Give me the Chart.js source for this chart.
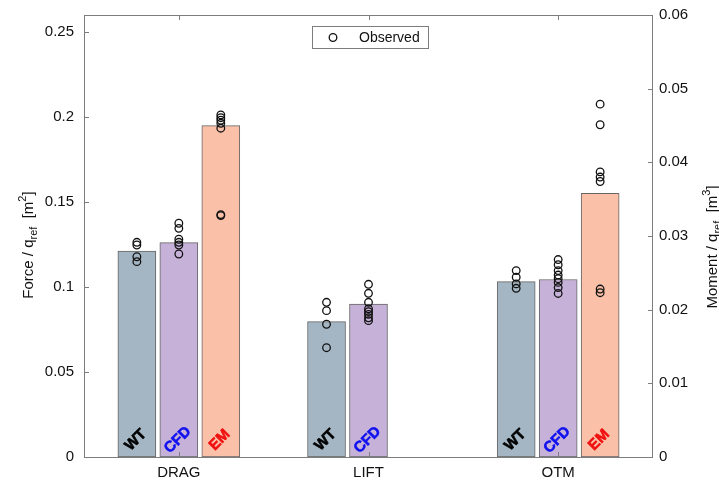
<!DOCTYPE html>
<html>
<head>
<meta charset="utf-8">
<script src="https://cdn.jsdelivr.net/npm/chart.js@4"></script>
<style>
  html, body { margin: 0; padding: 0; background: #fff; }
  canvas { display: block; }
</style>
</head>
<body>
<canvas id="chart" width="719" height="482"></canvas>
<script>
const categories = ['DRAG', 'LIFT', 'OTM'];
const methods = ['WT', 'CFD', 'EM'];

// bar heights: DRAG and LIFT on the force axis, OTM on the moment axis
const forceWT = [0.1212, 0.0796, null];
const forceCFD = [0.1261, 0.0900, null];
const forceEM = [0.1949, null, null];
const momentWT = [null, null, 0.0238];
const momentCFD = [null, null, 0.0241];
const momentEM = [null, null, 0.0358];

// observed runs
const obsDragWT = [0.1263, 0.1247, 0.1178, 0.1149];
const obsDragCFD = [0.1375, 0.1345, 0.1281, 0.1263, 0.1247, 0.1194];
const obsDragEM = [0.2012, 0.1996, 0.1981, 0.1963, 0.1934, 0.1426, 0.1420];
const obsLiftWT = [0.0910, 0.0861, 0.0781, 0.0643];
const obsLiftCFD = [0.1016, 0.0963, 0.0910, 0.0871, 0.0855, 0.0839, 0.0819, 0.0802];
const obsOtmWT = [0.0253, 0.0244, 0.0235, 0.0229];
const obsOtmCFD = [0.0268, 0.0261, 0.0253, 0.0247, 0.0242, 0.0237, 0.0230, 0.0222];
const obsOtmEM = [0.0479, 0.0451, 0.0387, 0.0380, 0.0374, 0.0228, 0.0223];

const forceTicks = [0, 0.05, 0.1, 0.15, 0.2, 0.25];
const momentTicks = [0, 0.01, 0.02, 0.03, 0.04, 0.05, 0.06];

const FONT = '"Liberation Sans", Arial, Helvetica, sans-serif';
const frameColor = '#7d7d7d';
const fills = ['rgb(164,182,195)', 'rgb(198,177,216)', 'rgb(251,192,168)'];
const labelColors = ['#000000', '#1010f0', '#f01010'];
const slotWidth = 0.2213;   // one method slot, in category units

// [category index, method slot, axis, values]
const observed = [
  [0, 0, 'y', obsDragWT], [0, 1, 'y', obsDragCFD], [0, 2, 'y', obsDragEM],
  [1, 0, 'y', obsLiftWT], [1, 1, 'y', obsLiftCFD],
  [2, 0, 'y2', obsOtmWT], [2, 1, 'y2', obsOtmCFD], [2, 2, 'y2', obsOtmEM]
];

function barSet(values, m, axis) {
  let off = (m - 1) * slotWidth;
  return {
    type: 'bar', xAxisID: 'xo', yAxisID: axis, grouped: false,
    data: values.map((v, i) => ({x: i + off, y: v})).filter(p => p.y != null),
    backgroundColor: fills[m], borderColor: '#666666', borderWidth: 1,
    borderSkipped: false, barThickness: 38, order: 2, method: m
  };
}

let datasets = [
  barSet(forceWT, 0, 'y'), barSet(forceCFD, 1, 'y'), barSet(forceEM, 2, 'y'),
  barSet(momentWT, 0, 'y2'), barSet(momentCFD, 1, 'y2'), barSet(momentEM, 2, 'y2')
];
observed.forEach(o => {
  let off = (o[1] - 1) * slotWidth;
  datasets.push({
    type: 'line', label: 'Observed', showLine: false, xAxisID: 'xo', yAxisID: o[2],
    data: o[3].map(v => ({x: o[0] + off, y: v})),
    pointRadius: 3.8, pointBorderWidth: 1.3, pointBorderColor: '#111',
    pointBackgroundColor: 'rgba(0,0,0,0)', order: 0, clip: false
  });
});

// axes box with inward ticks, like the original figure
const framePlugin = {
  id: 'frame',
  afterDatasetsDraw(chart) {
    const {ctx, chartArea: a, scales} = chart;
    ctx.save();
    ctx.strokeStyle = frameColor;
    ctx.lineWidth = 1;
    ctx.strokeRect(a.left + 0.5, a.top + 0.5, a.right - a.left - 1, a.bottom - a.top);
    ctx.beginPath();
    forceTicks.forEach(v => {
      let y = Math.round(scales.y.getPixelForValue(v)) + 0.5;
      ctx.moveTo(a.left, y); ctx.lineTo(a.left + 5, y);
    });
    momentTicks.forEach(v => {
      let y = Math.round(scales.y2.getPixelForValue(v)) + 0.5;
      ctx.moveTo(a.right, y); ctx.lineTo(a.right - 5, y);
    });
    categories.forEach((c, i) => {
      let x = Math.round(scales.x.getPixelForValue(i)) + 0.5;
      ctx.moveTo(x, a.top); ctx.lineTo(x, a.top + 5);
      ctx.moveTo(x, a.bottom); ctx.lineTo(x, a.bottom - 5);
    });
    ctx.stroke();
    ctx.restore();
  }
};

// WT / CFD / EM written across the foot of each bar
const barLabelPlugin = {
  id: 'barLabels',
  afterDatasetsDraw(chart) {
    const {ctx, chartArea: a} = chart;
    ctx.save();
    ctx.font = 'bold 15px ' + FONT;
    ctx.textAlign = 'center';
    ctx.textBaseline = 'middle';
    chart.data.datasets.forEach((ds, di) => {
      if (ds.type !== 'bar') return;
      chart.getDatasetMeta(di).data.forEach(el => {
        ctx.save();
        ctx.translate(el.x - 1, a.bottom - 17);
        ctx.rotate(-Math.PI / 4);
        ctx.fillStyle = labelColors[ds.method];
        ctx.strokeStyle = labelColors[ds.method];
        ctx.lineWidth = 0.6;
        ctx.fillText(methods[ds.method], 0, 0);
        ctx.strokeText(methods[ds.method], 0, 0);
        ctx.restore();
      });
    });
    ctx.restore();
  }
};

// axis titles with sub/superscripts, legend box inside the plot
function drawTitle(ctx, parts, cx, cy) {
  ctx.save();
  ctx.translate(cx, cy);
  ctx.rotate(-Math.PI / 2);
  ctx.textBaseline = 'alphabetic';
  ctx.textAlign = 'left';
  let total = 0;
  parts.forEach(p => { ctx.font = p[1] + 'px ' + FONT; total += ctx.measureText(p[0]).width; });
  let x = -total / 2;
  parts.forEach(p => {
    ctx.font = p[1] + 'px ' + FONT;
    ctx.fillStyle = '#111';
    ctx.fillText(p[0], x, p[2]);
    x += ctx.measureText(p[0]).width;
  });
  ctx.restore();
}

const titlePlugin = {
  id: 'titles',
  afterDraw(chart) {
    const ctx = chart.ctx;
    drawTitle(ctx, [['Force / q', 15, 0], ['ref', 11, 4], ['  [m', 15, 0], ['2', 11, -7], [']', 15, 0]], 33, 245);
    drawTitle(ctx, [['Moment / q', 15, 0], ['ref', 11, 4], ['  [m', 15, 0], ['3', 11, -7], [']', 15, 0]], 717, 247);

    ctx.save();
    ctx.fillStyle = '#fff';
    ctx.fillRect(312, 26, 116, 23);
    ctx.strokeStyle = frameColor;
    ctx.lineWidth = 1;
    ctx.strokeRect(312.5, 26.5, 116, 22);
    ctx.beginPath();
    ctx.arc(333, 37.5, 3.8, 0, Math.PI * 2);
    ctx.strokeStyle = '#111';
    ctx.lineWidth = 1.3;
    ctx.stroke();
    ctx.fillStyle = '#111';
    ctx.font = '14px ' + FONT;
    ctx.textBaseline = 'middle';
    ctx.fillText('Observed', 359, 38);
    ctx.restore();
  }
};

function noPad(s) { s.paddingTop = 0; s.paddingBottom = 0; }

new Chart(document.getElementById('chart'), {
  data: { labels: categories, datasets: datasets },
  options: {
    responsive: false,
    animation: false,
    devicePixelRatio: 1,
    events: [],
    layout: { padding: { top: 15, left: 0, right: 0, bottom: 0 } },
    plugins: { legend: { display: false }, tooltip: { enabled: false } },
    scales: {
      x: {
        type: 'category', position: 'bottom', offset: true,
        grid: { display: false, drawTicks: false }, border: { display: false },
        ticks: { color: '#111', font: { family: FONT, size: 15 }, padding: 7, maxRotation: 0 },
        afterFit: s => { s.height = 25; s.paddingLeft = 0; s.paddingRight = 0; }
      },
      xo: { type: 'linear', display: false, offset: false, min: -0.5, max: 2.5 },
      y: {
        position: 'left', min: 0, max: 0.26, stacked: false,
        grid: { display: false, drawTicks: false }, border: { display: false },
        afterBuildTicks: s => { s.ticks = forceTicks.map(v => ({value: v})); },
        ticks: { color: '#111', font: { family: FONT, size: 15 }, padding: 10, callback: v => String(v) },
        afterFit: s => { s.width = 84; noPad(s); }
      },
      y2: {
        position: 'right', min: 0, max: 0.06, stacked: false,
        grid: { display: false, drawTicks: false }, border: { display: false },
        afterBuildTicks: s => { s.ticks = momentTicks.map(v => ({value: v})); },
        ticks: { color: '#111', font: { family: FONT, size: 15 }, padding: 6, callback: v => String(v) },
        afterFit: s => { s.width = 66; noPad(s); }
      }
    }
  },
  plugins: [framePlugin, barLabelPlugin, titlePlugin]
});
</script>
</body>
</html>
